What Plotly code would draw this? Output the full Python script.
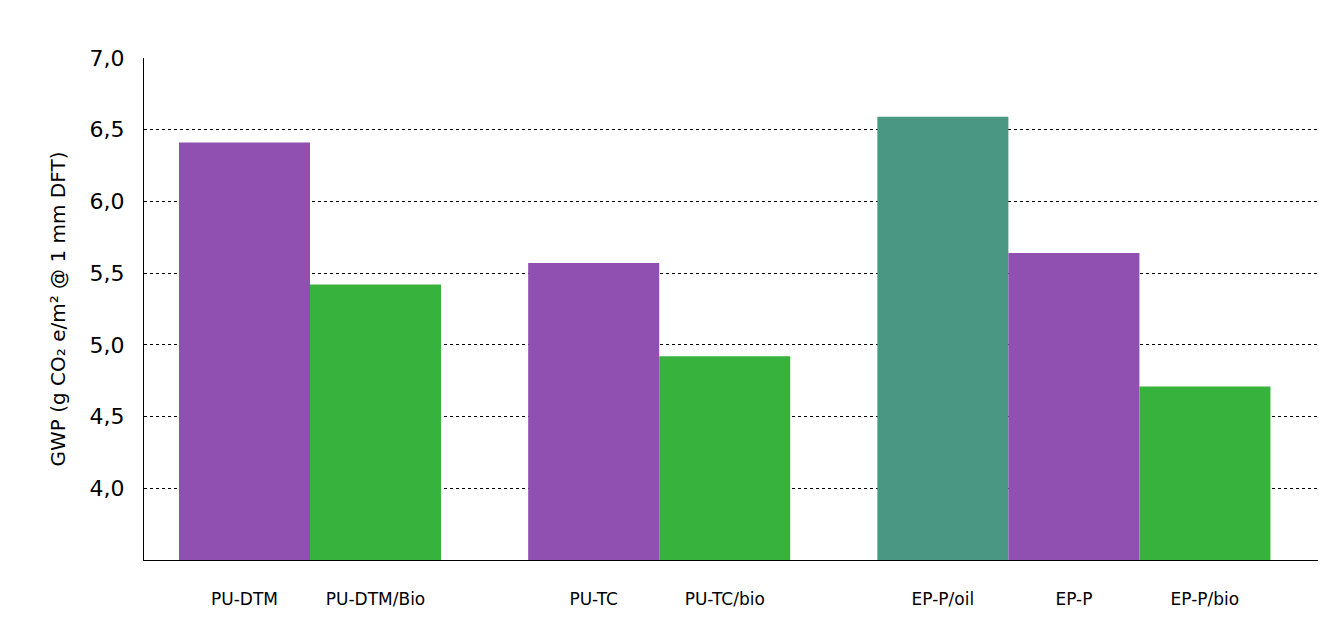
import plotly.graph_objects as go

labels = ["PU-DTM", "PU-DTM/Bio", "PU-TC", "PU-TC/bio", "EP-P/oil", "EP-P", "EP-P/bio"]
groups = [0, 0, 1, 1, 2, 2, 2]
index_in_group = [0, 1, 0, 1, 0, 1, 2]
values = [6.41, 5.42, 5.57, 4.92, 6.59, 5.64, 4.71]
colors = ["#8f50b1", "#37b23d", "#8f50b1", "#37b23d", "#4a9884", "#8f50b1", "#37b23d"]
yticks = [4.0, 4.5, 5.0, 5.5, 6.0, 6.5, 7.0]

xpos = [g * 2.665 + i + 0.767 for g, i in zip(groups, index_in_group)]

fig = go.Figure(go.Bar(x=xpos, y=values, marker_color=colors, width=1.0,
                       marker_line_width=0))
fig.update_layout(
    width=1329, height=625, plot_bgcolor="white", paper_bgcolor="white",
    margin=dict(l=136, r=19, t=50, b=73), showlegend=False,
    font=dict(family="DejaVu Sans", color="black"),
)
fig.update_xaxes(range=[0, 8.96], tickvals=xpos, ticktext=labels, showgrid=False,
                 showline=True, linecolor="black", linewidth=1, ticks="",
                 ticklen=0, tickfont=dict(size=17), ticklabelstandoff=24)
fig.update_yaxes(range=[3.5, 7.0], tickvals=yticks,
                 ticktext=[f"{v:.1f}".replace(".", ",") for v in yticks],
                 showgrid=True, gridcolor="black", griddash="dot", gridwidth=1,
                 showline=True, linecolor="black", linewidth=1,
                 tickfont=dict(size=22), ticklabelstandoff=14, zeroline=False,
                 title=dict(text="GWP (g CO₂ e/m² @ 1 mm DFT)", font=dict(size=20), standoff=18))
fig.write_html("out.html")
